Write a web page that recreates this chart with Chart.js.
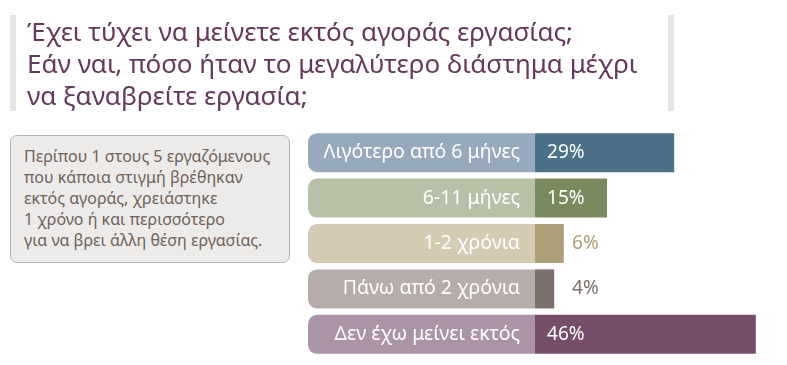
<!DOCTYPE html>
<html>
<head>
<meta charset="utf-8">
<script src="https://cdn.jsdelivr.net/npm/chart.js@4"></script>
<style>
  body { margin: 0; background: #fff; font-family: "Noto Sans", sans-serif; }
  #wrap { position: relative; width: 787px; height: 365px; }
  #title {
    position: absolute; left: 10px; top: 15px; width: 652px; height: 96px;
    border-left: 6px solid #e8e4e3; border-right: 6px solid #e8e4e3;
  }
  #title div {
    position: absolute; left: 11px; white-space: nowrap;
    font-size: 26px; color: #633a5b; line-height: 1;
  }
  #note {
    position: absolute; left: 10px; top: 135px; width: 278px; height: 126px;
    background: #ecebea; border: 1.5px solid #b9b3b0; border-radius: 7px;
  }
  #note div {
    position: absolute; left: 13px; white-space: nowrap;
    font-size: 16px; color: #6f6259; line-height: 1;
  }
</style>
</head>
<body>
<div id="wrap">
  <canvas id="chart"></canvas>
  <div id="title">
    <div style="top:3px">Έχει τύχει να μείνετε εκτός αγοράς εργασίας;</div>
    <div style="top:35px">Εάν ναι, πόσο ήταν το μεγαλύτερο διάστημα μέχρι</div>
    <div style="top:67px">να ξαναβρείτε εργασία;</div>
  </div>
  <div id="note">
    <div style="top:12px">Περίπου 1 στους 5 εργαζόμενους</div>
    <div style="top:33px">που κάποια στιγμή βρέθηκαν</div>
    <div style="top:54px">εκτός αγοράς, χρειάστηκε</div>
    <div style="top:75px">1 χρόνο ή και περισσότερο</div>
    <div style="top:96px">για να βρει άλλη θέση εργασίας.</div>
  </div>
</div>
<script>
// data //
const categories = ['Λιγότερο από 6 μήνες', '6-11 μήνες', '1-2 χρόνια', 'Πάνω από 2 χρόνια', 'Δεν έχω μείνει εκτός'];
const values = [29, 15, 6, 4, 46];
const valueLabels = ['29%', '15%', '6%', '4%', '46%'];

const barColors = ['#4d7089', '#7a8a5f', '#ad9f77', '#7b706b', '#744e6b'];
const padColors = ['#97a9bc', '#b8c0a8', '#d5cab3', '#b6aca9', '#ab93a8'];

// label pad stretches from the axis min to zero
const X_MIN = -47.3;
const X_MAX = 52.5;

const labelPlugin = {
  id: 'barLabels',
  afterDatasetsDraw(chart) {
    const ctx = chart.ctx;
    const meta = chart.getDatasetMeta(1);
    const zero = chart.scales.x.getPixelForValue(0);
    ctx.save();
    ctx.textBaseline = 'middle';
    meta.data.forEach((bar, i) => {
      ctx.font = '19.5px "Noto Sans"';
      ctx.fillStyle = '#fff';
      ctx.textAlign = 'right';
      ctx.fillText(categories[i], zero - 15, bar.y);
      ctx.textAlign = 'left';
      ctx.font = '19px "Noto Sans"';
      if (bar.x - bar.base > 50) {
        ctx.fillStyle = '#fff';
        ctx.fillText(valueLabels[i], zero + 12, bar.y);
      } else {
        ctx.fillStyle = barColors[i];
        ctx.fillText(valueLabels[i], zero + 37, bar.y);
      }
    });
    ctx.restore();
  }
};

new Chart(document.querySelector('#chart'), {
  type: 'bar',
  data: {
    labels: categories,
    datasets: [
      {
        data: categories.map(() => [X_MIN, 0]),
        backgroundColor: padColors,
        borderSkipped: false,
        borderRadius: { topLeft: 9, bottomLeft: 9, topRight: 0, bottomRight: 0 },
        grouped: false
      },
      {
        data: values,
        backgroundColor: barColors,
        grouped: false
      }
    ]
  },
  options: {
    indexAxis: 'y',
    responsive: true,
    maintainAspectRatio: false,
    animation: false,
    layout: { padding: { left: 308, right: 0, top: 130, bottom: 8 } },
    barPercentage: 0.86,
    categoryPercentage: 1,
    scales: {
      x: { min: X_MIN, max: X_MAX, display: false },
      y: { display: false }
    },
    plugins: { legend: { display: false }, tooltip: { enabled: false } }
  },
  plugins: [labelPlugin]
});
</script>
</body>
</html>
